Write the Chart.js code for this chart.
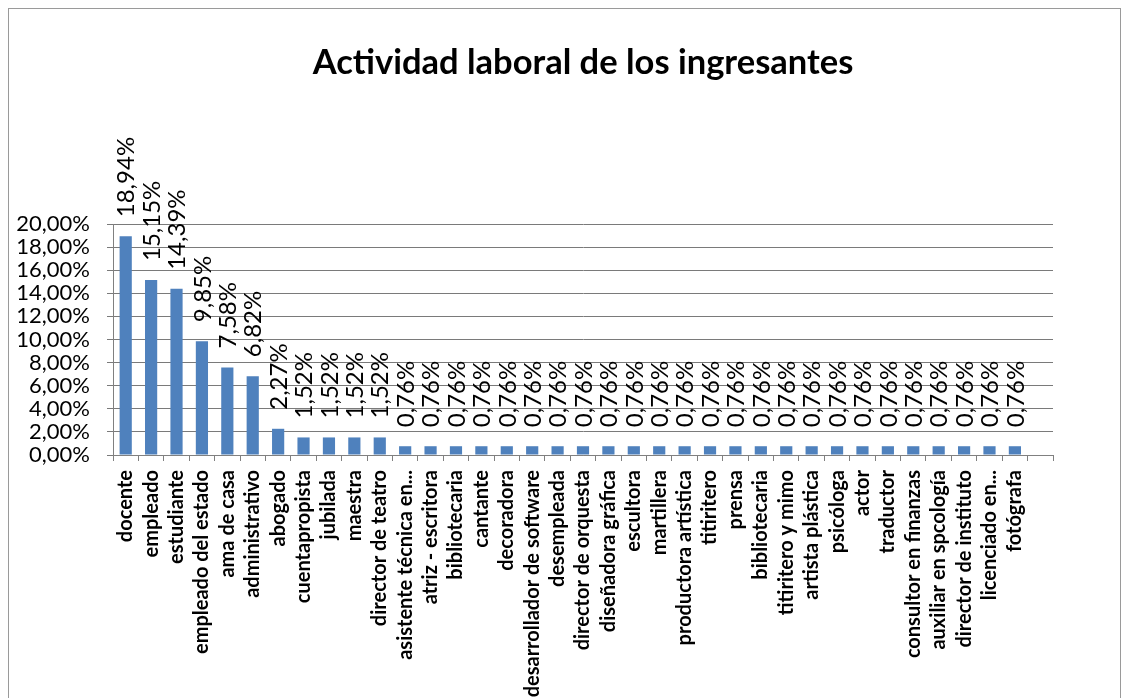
<!DOCTYPE html>
<html>
<head>
<meta charset="utf-8">
<script src="https://cdn.jsdelivr.net/npm/chart.js@4/dist/chart.umd.min.js"></script>
<style>
  html, body { margin: 0; padding: 0; background: #ffffff; overflow: hidden; }
  #frame { position: absolute; left: 8px; top: 8px; width: 1113px; height: 720px; border: 1px solid #9a9a9a; box-sizing: border-box; }
  #wrap { position: absolute; left: 0; top: 0; width: 1129px; height: 698px; }
</style>
</head>
<body>
<div id="frame"></div>
<div id="wrap"><canvas id="c" width="1129" height="698"></canvas></div>
<script>
const chartTitle = "Actividad laboral de los ingresantes";

const categories = [
  "docente", "empleado", "estudiante", "empleado del estado", "ama de casa",
  "administrativo", "abogado", "cuentapropista", "jubilada", "maestra",
  "director de teatro", "asistente técnica en...", "atriz - escritora", "bibliotecaria",
  "cantante", "decoradora", "desarrollador de software", "desempleada",
  "director de orquesta", "diseñadora gráfica", "escultora", "martillera",
  "productora artística", "titiritero", "prensa", "bibliotecaria",
  "titiritero y mimo", "artista plástica", "psicóloga", "actor", "traductor",
  "consultor en finanzas", "auxiliar en spcología", "director de instituto",
  "licenciado en...", "fotógrafa", ""
];

const percentages = [
  18.94, 15.15, 14.39, 9.85, 7.58,
  6.82, 2.27, 1.52, 1.52, 1.52,
  1.52, 0.76, 0.76, 0.76,
  0.76, 0.76, 0.76, 0.76,
  0.76, 0.76, 0.76, 0.76,
  0.76, 0.76, 0.76, 0.76,
  0.76, 0.76, 0.76, 0.76, 0.76,
  0.76, 0.76, 0.76,
  0.76, 0.76, null
];

const yTicks = [0, 2, 4, 6, 8, 10, 12, 14, 16, 18, 20];

function fmtPct(v) { return v.toFixed(2).replace('.', ',') + '%'; }

const valueLabels = {
  id: 'valueLabels',
  afterDatasetsDraw(chart) {
    const ctx = chart.ctx;
    const meta = chart.getDatasetMeta(0);
    ctx.save();
    ctx.font = '24px Lato';
    ctx.fillStyle = '#000000';
    ctx.textAlign = 'left';
    ctx.textBaseline = 'middle';
    meta.data.forEach((bar, i) => {
      const v = percentages[i];
      if (v === null || v === undefined) return;
      ctx.save();
      ctx.translate(bar.x + 1, bar.y - 19);
      ctx.rotate(-Math.PI / 2);
      ctx.fillText(fmtPct(v), 0, 0);
      ctx.restore();
    });
    ctx.restore();
  }
};

new Chart(document.getElementById('c'), {
  type: 'bar',
  data: {
    labels: categories,
    datasets: [{
      data: percentages,
      backgroundColor: '#4F81BD',
      borderWidth: 0,
      barPercentage: 0.48,
      categoryPercentage: 1.0
    }]
  },
  options: {
    responsive: false,
    animation: false,
    layout: { padding: { left: 0, right: 76, top: 0, bottom: 0 } },
    plugins: {
      legend: { display: false },
      tooltip: { enabled: false },
      title: {
        display: true,
        text: chartTitle,
        fullSize: false,
        color: '#000000',
        font: { family: 'Lato', size: 34.5, weight: 'bold', lineHeight: 1.2 },
        padding: { top: 42, bottom: 140.6 }
      }
    },
    scales: {
      x: {
        ticks: {
          color: '#000000',
          font: { family: 'Lato', size: 20, weight: 'bold' },
          minRotation: 90,
          maxRotation: 90,
          autoSkip: false,
          padding: 9
        },
        grid: {
          display: true,
          drawOnChartArea: false,
          drawTicks: true,
          tickLength: 6,
          color: '#808080'
        },
        border: { display: true, color: '#808080', width: 1 },
        afterFit(scale) { scale.height = 243; }
      },
      y: {
        min: 0,
        max: 20,
        afterBuildTicks(scale) { scale.ticks = yTicks.map(v => ({ value: v })); },
        ticks: {
          color: '#000000',
          font: { family: 'Lato', size: 22 },
          padding: 17,
          autoSkip: false,
          callback: (v) => fmtPct(v)
        },
        grid: {
          color: '#7a7a7a',
          lineWidth: 1,
          drawTicks: true,
          tickLength: 6
        },
        border: { display: true, color: '#808080', width: 1 },
        afterFit(scale) { scale.width = 113; }
      }
    }
  },
  plugins: [valueLabels]
});
</script>
</body>
</html>
